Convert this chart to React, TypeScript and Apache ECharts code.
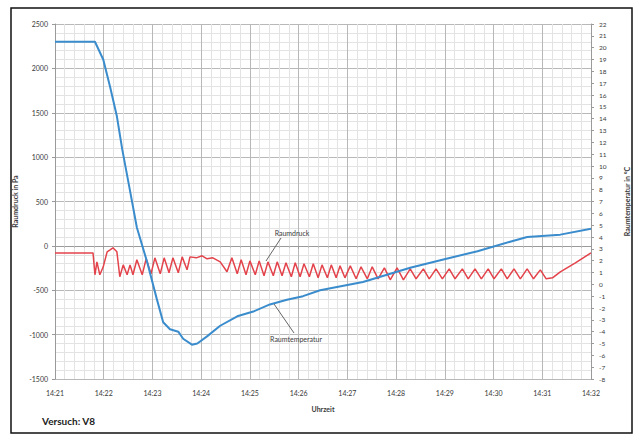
import React, { useEffect, useRef } from "react";
import * as echarts from "echarts";

// minutes after 14:00
const pressureTimes = [
  21.0, 21.78, 21.82, 21.86, 21.92, 21.99, 22.07, 22.13, 22.19, 22.27, 22.33, 22.4, 22.48, 22.54, 22.6,
  22.68, 22.79, 22.87, 22.97, 23.05, 23.16, 23.24, 23.34, 23.42, 23.53, 23.61, 23.71, 23.77, 23.9, 24.02,
  24.12, 24.24, 24.39, 24.53, 24.63, 24.74, 24.82, 24.92, 25.0, 25.11, 25.19, 25.29, 25.37, 25.48, 25.56,
  25.66, 25.74, 25.85, 25.93, 26.03, 26.11, 26.22, 26.3, 26.4, 26.48, 26.59, 26.67, 26.77, 26.85, 26.95,
  27.06, 27.18, 27.28, 27.41, 27.51, 27.63, 27.76, 27.88, 28.02, 28.15, 28.29, 28.41, 28.56, 28.68, 28.82,
  28.95, 29.09, 29.21, 29.36, 29.48, 29.62, 29.75, 29.89, 30.01, 30.16, 30.28, 30.42, 30.55, 30.69, 30.82,
  30.96, 31.08, 31.21, 31.37, 31.68, 32.0,
];
// Raumdruck in Pa
const pressureValues = [
  -79, -79, -326, -180, -326, -236, -67, -45, -22, -67, -348, -214, -326, -214, -326,
  -157, -326, -146, -315, -135, -315, -135, -303, -135, -303, -124, -270, -124, -135, -112,
  -146, -135, -180, -292, -135, -315, -157, -326, -169, -326, -169, -337, -180, -337, -180,
  -337, -191, -348, -191, -348, -202, -348, -202, -360, -214, -360, -214, -360, -225, -360,
  -225, -371, -236, -371, -236, -371, -247, -382, -247, -382, -259, -371, -259, -371, -259,
  -371, -259, -371, -259, -371, -259, -371, -259, -371, -259, -371, -259, -371, -259, -371,
  -270, -371, -360, -292, -191, -79,
];

const tempTimes = [
  21.0, 21.82, 21.99, 22.13, 22.27, 22.38, 22.54, 22.68, 22.89, 23.09, 23.22, 23.36, 23.53, 23.63, 23.81,
  23.92, 24.12, 24.39, 24.74, 25.07, 25.41, 25.76, 26.09, 26.44, 27.32, 28.29, 28.97, 29.67, 30.34, 30.69,
  31.37, 32.0,
];
// Raumtemperatur in °C
const tempValues = [
  20.5, 20.5, 19.0, 16.7, 14.2, 11.4, 7.9, 4.8, 1.9, -1.25, -3.2, -3.8, -4.0, -4.6, -5.1,
  -5.0, -4.4, -3.5, -2.7, -2.3, -1.7, -1.3, -1.0, -0.5, 0.2, 1.4, 2.1, 2.8, 3.6, 4.0,
  4.2, 4.7,
];

const FONT = "Lato, 'Open Sans', sans-serif";
const TXT = "#3a3a3a";

export default function App() {
  const ref = useRef<HTMLDivElement>(null);
  useEffect(() => {
    if (!ref.current) return;
    const chart = echarts.init(ref.current, undefined, { renderer: "svg" });
    const pData = pressureTimes.map((t, i) => [t, pressureValues[i]]);
    const tData = tempTimes.map((t, i) => [t, tempValues[i]]);
    chart.setOption({
      animation: false,
      backgroundColor: "#ffffff",
      textStyle: { fontFamily: FONT },
      grid: { left: 55, right: 47, top: 24, bottom: 56 },
      xAxis: {
        type: "value",
        min: 21,
        max: 32,
        interval: 1,
        name: "Uhrzeit",
        nameLocation: "middle",
        nameGap: 26,
        nameTextStyle: { fontSize: 7, fontWeight: "bold", color: TXT, fontFamily: FONT },
        axisLine: { show: true, lineStyle: { color: "#9a9a9a", width: 1 } },
        axisTick: { show: true, length: 3, lineStyle: { color: "#9a9a9a" } },
        minorTick: { show: true, splitNumber: 5, length: 2, lineStyle: { color: "#bbbbbb" } },
        axisLabel: {
          fontSize: 7,
          color: TXT,
          margin: 10,
          fontFamily: FONT,
          formatter: (v: number) => "14:" + String(Math.round(v)),
        },
        splitLine: { show: true, lineStyle: { color: "#b8b8b8", width: 1 } },
        minorSplitLine: { show: true, lineStyle: { color: "#e3e3e3", width: 1 } },
      },
      yAxis: [
        {
          type: "value",
          min: -1500,
          max: 2500,
          interval: 500,
          name: "Raumdruck in Pa",
          nameLocation: "middle",
          nameGap: 37,
          nameTextStyle: { fontSize: 7, fontWeight: "bold", color: TXT, fontFamily: FONT },
          axisLine: { show: true, lineStyle: { color: "#9a9a9a", width: 1 } },
          axisTick: { show: true, length: 3, lineStyle: { color: "#9a9a9a" } },
          minorTick: { show: false, splitNumber: 5 },
          axisLabel: {
            fontSize: 7,
            color: TXT,
            margin: 7,
            fontFamily: FONT,
            formatter: (v: number) => String(v),
          },
          splitLine: { show: true, lineStyle: { color: "#b8b8b8", width: 1 } },
          minorSplitLine: { show: true, lineStyle: { color: "#e3e3e3", width: 1 } },
        },
        {
          type: "value",
          min: -8,
          max: 22,
          interval: 1,
          position: "right",
          name: "Raumtemperatur in °C",
          nameLocation: "middle",
          nameGap: 32,
          nameTextStyle: { fontSize: 7, fontWeight: "bold", color: TXT, fontFamily: FONT },
          axisLine: { show: true, lineStyle: { color: "#9a9a9a", width: 1 } },
          axisTick: { show: true, length: 3, lineStyle: { color: "#9a9a9a" } },
          axisLabel: {
            fontSize: 6.5,
            color: TXT,
            margin: 8,
            fontFamily: FONT,
            formatter: (v: number) => String(v),
          },
          splitLine: { show: false },
        },
      ],
      series: [
        {
          name: "Raumdruck",
          type: "line",
          yAxisIndex: 0,
          data: pData,
          showSymbol: false,
          symbol: "none",
          lineStyle: { color: "#e3434b", width: 1.5 },
          z: 3,
        },
        {
          name: "Raumtemperatur",
          type: "line",
          yAxisIndex: 1,
          data: tData,
          showSymbol: false,
          symbol: "none",
          lineStyle: { color: "#3a8ccc", width: 2 },
          z: 4,
        },
      ],
      graphic: [
        {
          type: "rect",
          shape: { x: 11, y: 8, width: 621, height: 425 },
          style: { fill: "none", stroke: "#111", lineWidth: 1.5 },
          silent: true,
        },
        {
          type: "text",
          left: 42,
          top: 416,
          style: { text: "Versuch: V8", fontSize: 10, fontWeight: "bold", fill: "#222", fontFamily: FONT },
        },
        {
          type: "line",
          shape: { x1: 281, y1: 238, x2: 266, y2: 261 },
          style: { stroke: "#666", lineWidth: 1 },
          z: 10,
        },
        {
          type: "text",
          x: 292,
          y: 233,
          style: {
            text: "Raumdruck",
            fontSize: 7,
            fill: TXT,
            fontFamily: FONT,
            align: "center",
            verticalAlign: "middle",
          },
          z: 10,
        },
        {
          type: "line",
          shape: { x1: 274, y1: 304, x2: 294, y2: 333 },
          style: { stroke: "#666", lineWidth: 1 },
          z: 10,
        },
        {
          type: "text",
          x: 296,
          y: 339,
          style: {
            text: "Raumtemperatur",
            fontSize: 7,
            fill: TXT,
            fontFamily: FONT,
            align: "center",
            verticalAlign: "middle",
          },
          z: 10,
        },
      ],
    });
    return () => chart.dispose();
  }, []);
  return (
    <div
      ref={ref}
      style={{ position: "absolute", left: 0, top: 0, width: 638, height: 435 }}
    />
  );
}
